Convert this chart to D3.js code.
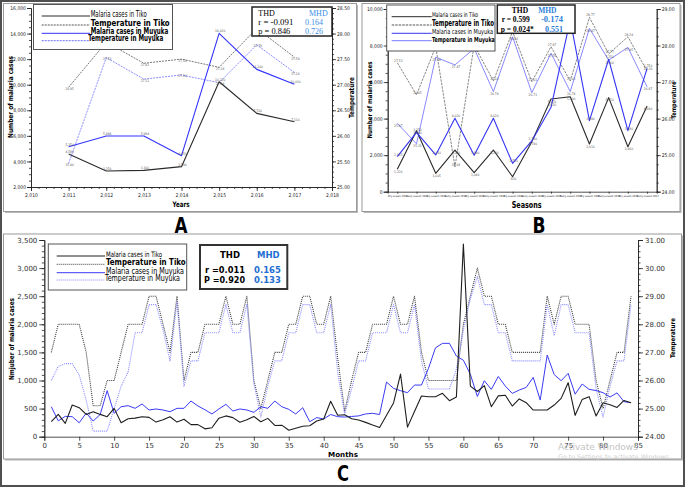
<!DOCTYPE html>
<html>
<head>
<meta charset="utf-8">
<script src="https://cdn.jsdelivr.net/npm/d3@7/dist/d3.min.js"></script>
<style>
html,body{margin:0;padding:0;background:#fff;}
svg{display:block;}
</style>
</head>
<body>
<svg id="chart" width="685" height="487"></svg>
<script>
// ===== shared =====
const legendLabels = ["Malaria cases in Tiko", "Temperature in Tiko", "Malaria cases in Muyuka", "Temperature in Muyuka"];
const statHeads = ["THD", "MHD"];

// ===== Panel A : years =====
const yearsA = [2011, 2012, 2013, 2014, 2015, 2016, 2017];
const tikoCasesA = [4580, 3250, 3300, 3590, 10230, 7760, 7110];
const muyukaCasesA = [5150, 5984, 5984, 4450, 14020, 11200, 10030];
const tikoTempA = [26.95, 27.83, 27.42, 27.50, 27.34, 28.10, 27.54];
const muyukaTempA = [25.46, 27.53, 27.11, 27.19, 27.04, 27.78, 27.24];
const yearTicksA = [2010, 2011, 2012, 2013, 2014, 2015, 2016, 2017, 2018];
const caseTicksA = [2000, 4000, 6000, 8000, 10000, 12000, 14000, 16000];
const tempTicksA = [25.0, 25.5, 26.0, 26.5, 27.0, 27.5, 28.0, 28.5];
const statRA = ["-0.091", "0.164"];
const statPA = ["0.846", "0.726"];

// ===== Panel B : seasons =====
const seasonsB = ["Dry season 2011", "Rainy season 2011", "Dry season 2012", "Rainy season 2012",
  "Dry season 2013", "Rainy season 2013", "Dry season 2014", "Rainy season 2014",
  "Dry season 2015", "Rainy season 2015", "Dry season 2016", "Rainy season 2016",
  "Dry season 2017", "Rainy season 2017"];
const tikoCasesB = [1226, 3340, 1005, 2280, 1040, 2280, 820, 2740, 5070, 5200, 2610, 5150, 2460, 4690];
const muyukaCasesB = [1915, 3250, 2010, 4020, 1990, 4020, 1550, 2780, 4620, 9400, 3890, 7250, 3340, 6750];
const tikoTempB = [27.53, 26.65, 27.97, 24.68, 28.01, 27.03, 28.38, 27.01, 27.97, 27.03, 28.77, 27.77, 28.24, 27.30];
const muyukaTempB = [25.87, 25.31, 27.68, 27.47, 27.92, 26.74, 28.24, 26.71, 27.79, 26.74, 28.47, 27.60, 27.95, 26.87];
const caseTicksB = [0, 2000, 4000, 6000, 8000, 10000];
const tempTicksB = [24, 25, 26, 27, 28, 29];
const statRB = ["0.599", "-0.174"];
const statPB = ["0.024*", "0.551"];

// ===== Panel C : months =====
const monthsC = d3.range(1, 85);
const tikoCasesC = [267, 397, 237, 563, 516, 397, 445, 397, 356, 504,
  249, 320, 330, 356, 344, 260, 300, 356, 260, 310,
  215, 215, 140, 160, 330, 370, 340, 258, 300, 360,
  265, 326, 200, 205, 115, 150, 185, 195, 280, 315,
  630, 383, 390, 320, 297, 255, 208, 165, 380, 600,
  1115, 170, 450, 725, 712, 712, 771, 641, 705, 3428,
  900, 805, 910, 534, 727, 738, 546, 672, 605, 474,
  474, 474, 563, 682, 961, 380, 660, 712, 368, 605,
  570, 520, 645, 605];
const muyukaCasesC = [534, 282, 362, 356, 249, 420, 279, 395, 819, 416,
  534, 552, 505, 582, 475, 493, 475, 445, 505, 505,
  635, 546, 480, 404, 493, 576, 457, 493, 475, 433,
  534, 505, 635, 534, 487, 404, 516, 267, 340, 315,
  395, 356, 350, 360, 370, 405, 416, 395, 972, 860,
  819, 783, 919, 919, 1215, 1580, 1661, 1661, 1435, 1360,
  1110, 716, 996, 842, 1072, 901, 771, 830, 878, 1056,
  652, 1453, 1105, 996, 1127, 756, 937, 842, 822, 783,
  706, 780, 623, 605];
const tikoTempC = [27.0, 28.0, 28.0, 28.0, 28.0, 27.0, 25.1, 25.1, 26.0, 26.0,
  27.0, 28.0, 28.0, 28.0, 29.0, 29.0, 28.0, 27.0, 29.0, 26.0,
  27.0, 27.0, 28.0, 28.0, 28.0, 29.0, 28.0, 28.0, 29.0, 26.0,
  25.0, 26.0, 27.0, 27.0, 28.0, 28.0, 29.0, 29.0, 28.0, 28.0,
  29.0, 26.8, 24.9, 26.0, 27.0, 27.0, 28.0, 28.0, 28.0, 29.0,
  28.0, 28.0, 29.0, 27.0, 26.0, 26.0, 26.0, 26.0, 26.0, 28.0,
  29.0, 30.0, 29.0, 29.0, 28.0, 28.0, 27.0, 27.0, 27.0, 27.0,
  27.0, 29.0, 28.0, 29.0, 29.0, 28.0, 28.0, 28.0, 26.0, 25.0,
  26.0, 27.0, 27.0, 29.0];
const muyukaTempC = [26.0, 26.5, 26.6, 26.6, 26.2, 25.3, 24.2, 24.2, 24.2, 25.0,
  25.8, 26.3, 27.7, 27.7, 28.7, 28.7, 27.8, 26.7, 28.8, 25.8,
  26.7, 26.7, 27.7, 27.7, 27.7, 28.7, 27.7, 27.7, 28.7, 25.9,
  24.7, 25.8, 26.7, 26.7, 27.7, 27.7, 28.7, 28.7, 27.7, 27.7,
  28.7, 26.3, 24.8, 25.7, 26.7, 26.7, 27.7, 27.7, 27.7, 28.7,
  27.7, 27.7, 28.7, 26.7, 25.7, 25.7, 25.7, 25.7, 26.4, 27.8,
  28.9, 29.7, 28.7, 28.7, 27.7, 27.7, 26.7, 26.7, 26.7, 26.7,
  26.7, 28.7, 27.6, 28.7, 28.7, 27.7, 27.7, 27.7, 25.7, 24.7,
  25.8, 26.7, 26.7, 28.7];
const monthTicksC = [0, 5, 10, 15, 20, 25, 30, 35, 40, 45, 50, 55, 60, 65, 70, 75, 80, 85];
const caseTicksC = [0, 500, 1000, 1500, 2000, 2500, 3000, 3500];
const tempTicksC = [24, 25, 26, 27, 28, 29, 30, 31];
const statRC = ["0.011", "0.165"];
const statPC = ["0.920", "0.133"];

// ===== drawing =====
const svg = d3.select("#chart");
const COND = "'DejaVu Sans Condensed','DejaVu Sans',sans-serif";
const SANS = "'DejaVu Sans',Verdana,sans-serif";
const SERIF = "'Liberation Serif','DejaVu Serif',serif";

function txt(x, y, s, o) {
  o = o || {};
  const t = svg.append("text").attr("x", x).attr("y", y).text(s)
    .attr("font-family", o.f || COND).attr("font-size", o.s || 8)
    .attr("font-weight", o.b ? "bold" : "normal").attr("fill", o.c || "#000")
    .attr("text-anchor", o.a || "start");
  if (o.len) t.attr("textLength", o.len).attr("lengthAdjust", "spacingAndGlyphs");
  if (o.rot) t.attr("transform", `rotate(${o.rot},${x},${y})`);
  return t;
}
function panelBox(x, y, w, h) {
  svg.append("rect").attr("x", x + 1.5).attr("y", y + 1.5).attr("width", w).attr("height", h).attr("fill", "#b8b8b8");
  svg.append("rect").attr("x", x).attr("y", y).attr("width", w).attr("height", h)
    .attr("fill", "#fff").attr("stroke", "#9a9a9a").attr("stroke-width", 1);
}
function styleAxis(g, size, fam, col) {
  g.attr("font-size", size).attr("font-family", fam);
  g.selectAll("path,line").attr("stroke", "#222").attr("stroke-width", 0.8);
  g.selectAll("text").attr("fill", col || "#222");
}
function addAxis(axis, tx, ty, size, fam, col) {
  const g = svg.append("g").attr("transform", `translate(${tx},${ty})`).call(axis);
  styleAxis(g, size, fam, col);
  return g;
}
function plotLine(xs, ys, xS, yS, st) {
  svg.append("path").datum(xs.map((x, i) => [x, ys[i]]))
    .attr("fill", "none").attr("stroke", st.c).attr("stroke-width", st.w)
    .attr("stroke-dasharray", st.d || null).attr("stroke-linejoin", "round")
    .attr("d", d3.line().x(d => xS(d[0])).y(d => yS(d[1])));
}
function pointLabels(xs, ys, xS, yS, fmt, dy) {
  svg.append("g").selectAll("text").data(xs.map((x, i) => [x, ys[i]])).join("text")
    .attr("x", d => xS(d[0]) + 1).attr("y", d => yS(d[1]) + dy)
    .attr("font-size", 3.3).attr("font-family", COND).attr("fill", "#555")
    .attr("text-anchor", "middle").text(d => fmt(d[1]));
}
function legend(box, x1, x2, rows, styles) {
  svg.append("rect").attr("x", box[0]).attr("y", box[1]).attr("width", box[2]).attr("height", box[3])
    .attr("fill", "#fff").attr("stroke", "#555").attr("stroke-width", 1);
  rows.forEach((r, i) => {
    const st = styles[i];
    svg.append("line").attr("x1", x1).attr("x2", x2).attr("y1", r.ly).attr("y2", r.ly)
      .attr("stroke", st.c).attr("stroke-width", st.lw || st.w).attr("stroke-dasharray", st.d || null);
    txt(r.tx, r.ty, legendLabels[i], {s: r.s, b: r.b, len: r.len, f: r.f || COND});
  });
}

// outer frame
svg.append("rect").attr("x", 1).attr("y", 1).attr("width", 683).attr("height", 485)
  .attr("fill", "#fff").attr("stroke", "#505050").attr("stroke-width", 2);

// ---------------- Panel A ----------------
panelBox(3.5, 3.5, 353, 208);
const xA = d3.scaleLinear().domain([2010, 2018]).range([31, 332]);
const yA = d3.scaleLinear().domain([2000, 16000]).range([187, 8]);
const tA = d3.scaleLinear().domain([25, 28.5]).range([187, 8]);
addAxis(d3.axisLeft(yA).tickValues(d3.range(2000, 16001, 500)).tickSize(2).tickSizeOuter(0).tickFormat(""), 31, 0, 5, COND);
addAxis(d3.axisLeft(yA).tickValues(caseTicksA).tickSize(4).tickPadding(1).tickFormat(d3.format(",")), 31, 0, 5, COND);
addAxis(d3.axisBottom(xA).tickValues(d3.range(2010, 2018.01, 0.2)).tickSize(2).tickSizeOuter(0).tickFormat(""), 0, 187, 5, COND);
addAxis(d3.axisBottom(xA).tickValues(yearTicksA).tickSize(4).tickPadding(2).tickFormat(d3.format(",")), 0, 187, 5, COND);
addAxis(d3.axisRight(tA).tickValues(d3.range(25, 28.501, 0.1)).tickSize(2).tickSizeOuter(0).tickFormat(""), 332, 0, 5, COND);
addAxis(d3.axisRight(tA).tickValues(tempTicksA).tickSize(4).tickPadding(1).tickFormat(d3.format(".2f")), 332, 0, 5, COND);

const stA = [
  {c: "#2a2a2a", w: 1.1},
  {c: "#555", w: 0.8, d: "2,1"},
  {c: "#3333ff", w: 1.1},
  {c: "#6e6eff", w: 0.8, d: "2,1"}
];
plotLine(yearsA, tikoTempA, xA, tA, stA[1]);
plotLine(yearsA, muyukaTempA, xA, tA, stA[3]);
plotLine(yearsA, tikoCasesA, xA, yA, stA[0]);
plotLine(yearsA, muyukaCasesA, xA, yA, stA[2]);
pointLabels(yearsA, tikoCasesA, xA, yA, d3.format(","), -1);
pointLabels(yearsA, muyukaCasesA, xA, yA, d3.format(","), -1);
pointLabels(yearsA, tikoTempA, xA, tA, d3.format(".2f"), 2.5);
pointLabels(yearsA, muyukaTempA, xA, tA, d3.format(".2f"), 2.5);

legend([33.5, 4.5, 139, 45], 41.7, 90, [
  {ly: 16, tx: 90.7, ty: 16.8, s: 8, b: false, len: 56},
  {ly: 25, tx: 90.7, ty: 26, s: 9.5, b: true, len: 79},
  {ly: 33.3, tx: 90.7, ty: 34, s: 8.5, b: true, len: 77.6},
  {ly: 40.7, tx: 88.3, ty: 41.3, s: 8.5, b: true, len: 75}
], stA.map(s => Object.assign({}, s, {lw: 1})));

svg.append("rect").attr("x", 252).attr("y", 7).attr("width", 80).attr("height", 29)
  .attr("fill", "#fff").attr("stroke", "#222").attr("stroke-width", 1.5);
txt(258.3, 15.5, statHeads[0], {f: SERIF, s: 8});
txt(309, 15.5, statHeads[1], {f: SERIF, s: 8, c: "#3a8ee6"});
txt(258.3, 24.5, "r = " + statRA[0], {f: SERIF, s: 8, len: 35});
txt(305, 24.5, statRA[1], {f: SERIF, s: 8, c: "#3a8ee6"});
txt(258.3, 33.7, "p = " + statPA[0], {f: SERIF, s: 8, len: 32});
txt(305, 33.7, statPA[1], {f: SERIF, s: 8, c: "#3a8ee6"});

txt(181, 207, "Years", {s: 7.5, b: true, a: "middle", len: 17});
txt(12.5, 97, "Number of malaria cases", {s: 7, b: true, a: "middle", rot: -90, len: 82});
txt(354, 97.5, "Temperature", {s: 7, b: true, a: "middle", rot: -90, len: 41});
txt(181, 233, "A", {s: 21, b: true, a: "middle", len: 13});

// ---------------- Panel B ----------------
panelBox(362, 3.5, 318, 208);
const xB = d3.scalePoint().domain(seasonsB).range([387.7, 656.7]).padding(0.5);
const yB = d3.scaleLinear().domain([0, 10000]).range([191.7, 9]);
const tB = d3.scaleLinear().domain([24, 29]).range([191.7, 9]);
addAxis(d3.axisLeft(yB).tickValues(d3.range(0, 10001, 500)).tickSize(2).tickSizeOuter(0).tickFormat(""), 387.7, 0, 5, COND);
addAxis(d3.axisLeft(yB).tickValues(caseTicksB).tickSize(4).tickPadding(1).tickFormat(d3.format(",")), 387.7, 0, 5, COND);
addAxis(d3.axisBottom(xB).tickSize(2).tickPadding(1.5), 0, 191.7, 2.6, COND);
addAxis(d3.axisRight(tB).tickValues(d3.range(24, 29.001, 0.25)).tickSize(2).tickSizeOuter(0).tickFormat(""), 656.7, 0, 5, COND);
addAxis(d3.axisRight(tB).tickValues(tempTicksB).tickSize(4).tickPadding(1).tickFormat(d3.format(".2f")), 656.7, 0, 5, COND);

const stB = [
  {c: "#2a2a2a", w: 1.1},
  {c: "#555", w: 0.7, d: "2.5,1"},
  {c: "#3535f5", w: 1.1},
  {c: "#7a7aff", w: 0.9}
];
plotLine(seasonsB, tikoTempB, xB, tB, stB[1]);
plotLine(seasonsB, muyukaTempB, xB, tB, stB[3]);
plotLine(seasonsB, tikoCasesB, xB, yB, stB[0]);
plotLine(seasonsB, muyukaCasesB, xB, yB, stB[2]);
pointLabels(seasonsB, tikoCasesB, xB, yB, d3.format(","), 3.5);
pointLabels(seasonsB, muyukaCasesB, xB, yB, d3.format(","), -1);
pointLabels(seasonsB, tikoTempB, xB, tB, d3.format(".2f"), -1);
pointLabels(seasonsB, muyukaTempB, xB, tB, d3.format(".2f"), 3.5);

legend([386.7, 5, 108.3, 46], 391.7, 431.7, [
  {ly: 16.7, tx: 432, ty: 17.3, s: 6.5, b: false, len: 46},
  {ly: 25, tx: 432, ty: 26.4, s: 8.5, b: true, len: 62},
  {ly: 33.3, tx: 432, ty: 34.2, s: 7, b: false, len: 61},
  {ly: 40.7, tx: 432, ty: 41.8, s: 7, b: true, len: 62.7}
], stB.map(s => Object.assign({}, s, {lw: 1})));

svg.append("rect").attr("x", 497.3).attr("y", 5).attr("width", 77.7).attr("height", 28.3)
  .attr("fill", "#fff").attr("stroke", "#222").attr("stroke-width", 1.5);
txt(520, 13, statHeads[0], {f: SERIF, s: 7.5, b: true, a: "middle"});
txt(547.3, 13, statHeads[1], {f: SERIF, s: 7.5, b: true, a: "middle", c: "#2a7fd8"});
txt(501.7, 22, "r = " + statRB[0], {f: SERIF, s: 7.5, b: true, len: 28});
txt(541, 22, statRB[1], {f: SERIF, s: 7.5, b: true, c: "#2a7fd8", len: 22});
txt(500.7, 31.5, "p = " + statPB[0], {f: SERIF, s: 7.5, b: true, len: 33});
txt(545, 31.5, statPB[1], {f: SERIF, s: 7.5, b: true, c: "#2a7fd8", len: 18});

txt(526.7, 208, "Seasons", {s: 9, b: true, a: "middle", len: 30});
txt(371.5, 100, "Number of malaria cases", {s: 6.5, b: true, a: "middle", rot: -90, len: 77});
txt(675.5, 100, "Temperature", {s: 6.5, b: true, a: "middle", rot: -90, len: 37});
txt(539, 233, "B", {s: 21, b: true, a: "middle", len: 13});

// ---------------- Panel C ----------------
panelBox(3.5, 234, 678, 225);
const xC = d3.scaleLinear().domain([0, 85]).range([44.3, 638]);
const yC = d3.scaleLinear().domain([0, 3500]).range([436.7, 240]);
const tC = d3.scaleLinear().domain([24, 31]).range([436.7, 240]);
addAxis(d3.axisLeft(yC).tickValues(d3.range(0, 3501, 100)).tickSize(2.5).tickSizeOuter(0).tickFormat(""), 44.3, 0, 7, SANS);
addAxis(d3.axisLeft(yC).tickValues(caseTicksC).tickSize(5).tickPadding(2).tickFormat(d3.format(",")), 44.3, 0, 7, SANS, "#333");
addAxis(d3.axisBottom(xC).tickValues(monthTicksC).tickSize(4).tickPadding(2).tickFormat(d3.format("d")), 0, 436.7, 7, SANS, "#333");
addAxis(d3.axisRight(tC).tickValues(d3.range(24, 31.001, 0.2)).tickSize(2.5).tickSizeOuter(0).tickFormat(""), 638, 0, 7, SANS);
addAxis(d3.axisRight(tC).tickValues(tempTicksC).tickSize(5).tickPadding(2).tickFormat(d3.format(".2f")), 638, 0, 7, SANS, "#333");

const stC = [
  {c: "#1e1e1e", w: 1.1},
  {c: "#3a3a3a", w: 1.1, d: "1,1"},
  {c: "#3a3af5", w: 1},
  {c: "#8c8cff", w: 1.1, d: "1,1"}
];
plotLine(monthsC, tikoTempC, xC, tC, stC[1]);
plotLine(monthsC, muyukaTempC, xC, tC, stC[3]);
plotLine(monthsC, muyukaCasesC, xC, yC, stC[2]);
plotLine(monthsC, tikoCasesC, xC, yC, stC[0]);

legend([48.3, 244, 138.4, 46], 56.7, 105, [
  {ly: 256, tx: 106, ty: 256.7, s: 7.5, b: false, len: 56},
  {ly: 264.3, tx: 106, ty: 265, s: 9, b: true, len: 79.7},
  {ly: 272.7, tx: 106, ty: 273.8, s: 8.5, b: false, len: 78},
  {ly: 280, tx: 105, ty: 281.2, s: 8, b: false, len: 75}
], stC.map(s => Object.assign({}, s, {lw: 1})));

svg.append("rect").attr("x", 200).attr("y", 245).attr("width", 87.3).attr("height", 44)
  .attr("fill", "#fff").attr("stroke", "#333").attr("stroke-width", 2);
txt(230, 257.5, statHeads[0], {f: SANS, s: 8.5, b: true, a: "middle"});
txt(268.3, 257.5, statHeads[1], {f: SANS, s: 8.5, b: true, a: "middle", c: "#1f6fd0"});
txt(205, 272.5, "r =" + statRC[0], {f: SANS, s: 8.5, b: true, len: 40});
txt(254, 273, statRC[1], {f: SANS, s: 8.5, b: true, c: "#1f6fd0"});
txt(204, 282.5, "P =" + statPC[0], {f: SANS, s: 8.5, b: true, len: 41});
txt(254, 282.5, statPC[1], {f: SANS, s: 8.5, b: true, c: "#1f6fd0"});

txt(343, 457, "Months", {f: SANS, s: 7, b: true, a: "middle", len: 30});
txt(13.5, 339, "Nmjuber of malaria cases", {s: 7, b: true, a: "middle", rot: -90, len: 82});
txt(674.5, 338, "Temperature", {s: 6.5, b: true, a: "middle", rot: -90, len: 40});
txt(343, 481, "C", {s: 21, b: true, a: "middle", len: 12});

// watermark text present in the picture
txt(558, 450, "Activate Windows", {f: SANS, s: 9, c: "#c4c4c4"});
txt(558, 459, "Go to Settings to activate Windows.", {f: SANS, s: 6.3, c: "#cfcfcf"});
</script>
</body>
</html>
